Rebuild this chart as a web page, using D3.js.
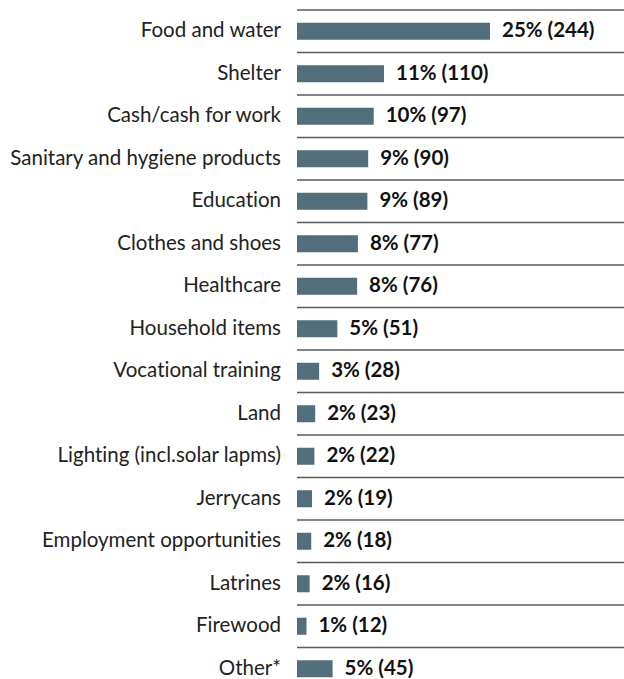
<!DOCTYPE html>
<html>
<head>
<meta charset="utf-8">
<script src="https://cdn.jsdelivr.net/npm/d3@7"></script>
<style>
  html, body { margin: 0; padding: 0; background: #fff; }
  svg { display: block; }
  text { font-variant-ligatures: none; font-feature-settings: "liga" 0; }
</style>
</head>
<body>
<svg id="chart" width="624" height="679"></svg>
<script>
// Categories, counts and shares for the horizontal bar chart
const categories = [
  "Food and water", "Shelter", "Cash/cash for work", "Sanitary and hygiene products",
  "Education", "Clothes and shoes", "Healthcare", "Household items",
  "Vocational training", "Land", "Lighting (incl.solar lapms)", "Jerrycans",
  "Employment opportunities", "Latrines", "Firewood", "Other*"
];
const counts = [244, 110, 97, 90, 89, 77, 76, 51, 28, 23, 22, 19, 18, 16, 12, 45];
const percents = [25, 11, 10, 9, 9, 8, 8, 5, 3, 2, 2, 2, 2, 2, 1, 5];

const data = categories.map((c, i) => ({ category: c, count: counts[i], pct: percents[i] }));

const svg = d3.select("#chart");
const chartWidth = 624;
const plotLeft = 297;
const plotTop = 10;
const rowStep = 42.5;
const fontFamily = "Lato, 'Open Sans', sans-serif";
const fontSize = 20.5;

const y = d3.scaleBand()
  .domain(categories)
  .range([plotTop, plotTop + rowStep * categories.length])
  .paddingInner(0)
  .paddingOuter(0);

const x = d3.scaleLinear()
  .domain([0, 244])
  .range([plotLeft, plotLeft + 193]);

const barH = 17;

// separator lines: one above every row
svg.append("g")
  .selectAll("line")
  .data(categories)
  .join("line")
  .attr("x1", plotLeft)
  .attr("x2", chartWidth)
  .attr("y1", d => y(d))
  .attr("y2", d => y(d))
  .attr("stroke", "#5a5a5a")
  .attr("stroke-width", 1.5);

// bars
svg.append("g")
  .selectAll("rect")
  .data(data)
  .join("rect")
  .attr("x", x(0))
  .attr("y", d => y(d.category) + y.bandwidth() / 2 - barH / 2)
  .attr("width", d => x(d.count) - x(0))
  .attr("height", barH)
  .attr("fill", "#526e7b");

// category labels
svg.append("g")
  .selectAll("text")
  .data(data)
  .join("text")
  .attr("x", plotLeft - 16)
  .attr("y", d => y(d.category) + y.bandwidth() / 2)
  .attr("dy", "0.3em")
  .attr("text-anchor", "end")
  .attr("font-family", fontFamily)
  .attr("font-size", fontSize)
  .attr("fill", "#222")
  .text(d => d.category);

// value labels
svg.append("g")
  .selectAll("text")
  .data(data)
  .join("text")
  .attr("x", d => x(d.count) + 12)
  .attr("y", d => y(d.category) + y.bandwidth() / 2)
  .attr("dy", "0.3em")
  .attr("font-family", fontFamily)
  .attr("font-weight", "bold")
  .attr("font-size", fontSize)
  .attr("fill", "#111")
  .text(d => `${d.pct}% (${d.count})`);
</script>
</body>
</html>
